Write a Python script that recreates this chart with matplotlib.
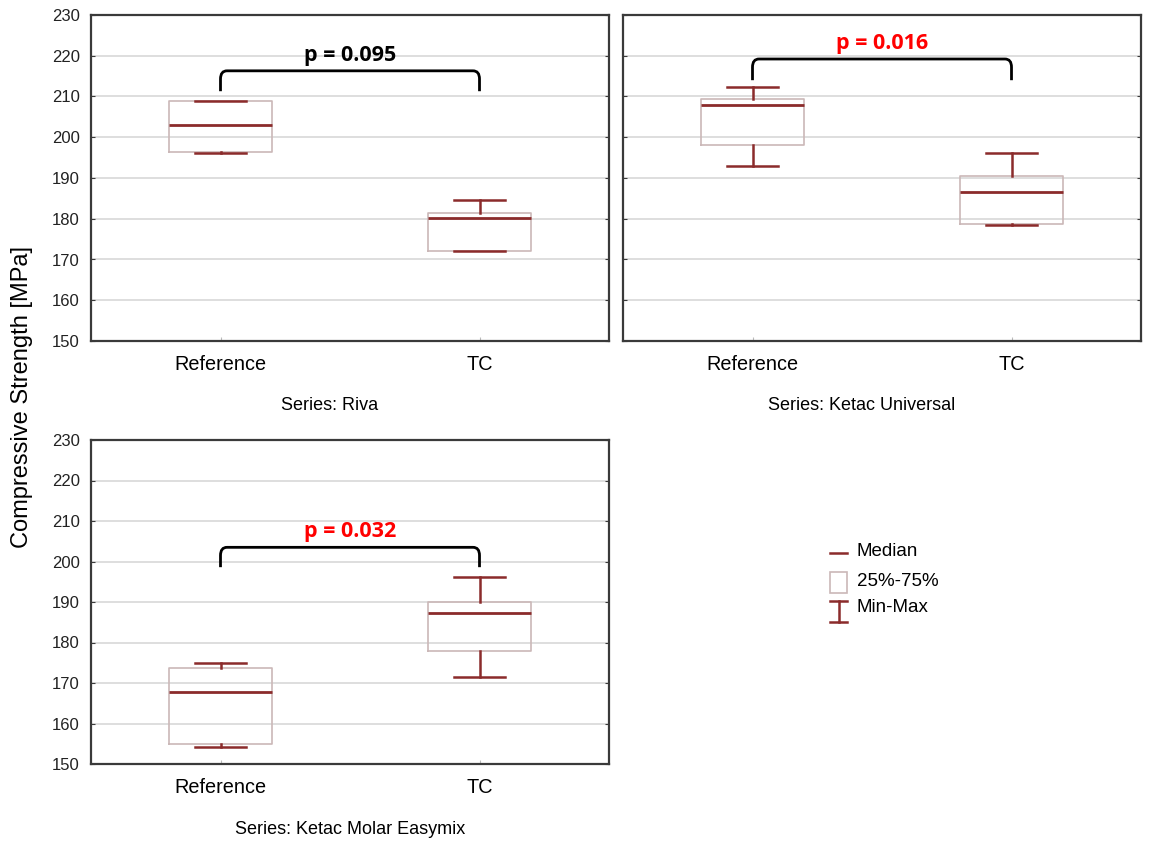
import matplotlib
matplotlib.use("Agg")
import matplotlib.pyplot as plt
from matplotlib.path import Path
from matplotlib.patches import PathPatch, Rectangle
from matplotlib.lines import Line2D

plt.rcParams["font.family"] = ["Liberation Sans", "DejaVu Sans"]

groups = ["Reference", "TC"]
series = ["Riva", "Ketac Universal", "Ketac Molar Easymix"]

# min, q1, median, q3, max for Reference and TC
riva_min = [196.1, 172.1]
riva_q1 = [196.3, 172.2]
riva_med = [203.0, 180.2]
riva_q3 = [208.9, 181.4]
riva_max = [209.0, 184.6]

ketu_min = [192.9, 178.4]
ketu_q1 = [198.1, 178.6]
ketu_med = [207.9, 186.6]
ketu_q3 = [209.3, 190.4]
ketu_max = [212.3, 196.1]

ketm_min = [154.2, 171.4]
ketm_q1 = [155.0, 178.0]
ketm_med = [167.8, 187.2]
ketm_q3 = [173.7, 190.1]
ketm_max = [175.0, 196.2]

p_values = ["p = 0.095", "p = 0.016", "p = 0.032"]
p_colors = ["black", "red", "red"]
bracket_top = [216.3, 219.2, 203.5]
bracket_end = [211.3, 214.0, 198.6]

data = [
    (riva_min, riva_q1, riva_med, riva_q3, riva_max),
    (ketu_min, ketu_q1, ketu_med, ketu_q3, ketu_max),
    (ketm_min, ketm_q1, ketm_med, ketm_q3, ketm_max),
]

dark_red = "#8b2b2b"
box_edge = "#cbb8b8"
grid_col = "#d8d8d8"
spine_col = "#3a3a3a"

fig = plt.figure(figsize=(11.52, 8.43), dpi=100)
W, H = 1152, 843


def px_axes(x0, y0, x1, y1):
    return fig.add_axes([x0 / W, 1 - y1 / H, (x1 - x0) / W, (y1 - y0) / H])


axes = [px_axes(91, 15, 609, 341), px_axes(623, 15, 1141, 341), px_axes(91, 440, 609, 764)]

for i, ax in enumerate(axes):
    mn, q1, med, q3, mx = data[i]
    stats = []
    for j in range(2):
        stats.append(dict(whislo=mn[j], q1=q1[j], med=med[j], q3=q3[j], whishi=mx[j], label=groups[j]))
    ax.bxp(stats, positions=[0, 1], widths=0.4, showfliers=False, capwidths=0.2,
           boxprops=dict(color=box_edge, linewidth=1.2),
           medianprops=dict(color=dark_red, linewidth=2),
           whiskerprops=dict(color=dark_red, linewidth=1.8),
           capprops=dict(color=dark_red, linewidth=1.8), zorder=3)
    ax.set_xlim(-0.5, 1.5)
    ax.set_ylim(150, 230)
    ax.set_yticks(range(150, 231, 10))
    ax.set_xticks([0, 1])
    ax.set_xticklabels(groups, fontsize=14.3)
    ax.yaxis.grid(True, color=grid_col, linewidth=1.2, zorder=0)
    ax.set_axisbelow(True)
    ax.tick_params(axis="y", direction="in", length=3, labelsize=12, left=True, right=True,
                   color=spine_col, pad=8, labelcolor="#222222")
    ax.tick_params(axis="x", direction="in", length=3, pad=10, color="#bbbbbb")
    if i == 1:
        ax.tick_params(axis="y", labelleft=False)
    for s in ax.spines.values():
        s.set_color(spine_col)
        s.set_linewidth(1.6)

    # bracket with rounded corners
    yt, ye = bracket_top[i], bracket_end[i]
    rx, ry = 0.025, 2.0
    verts = [(0, ye), (0, yt - ry), (0, yt), (rx, yt), (1 - rx, yt), (1, yt), (1, yt - ry), (1, ye)]
    codes = [Path.MOVETO, Path.LINETO, Path.CURVE3, Path.CURVE3, Path.LINETO,
             Path.CURVE3, Path.CURVE3, Path.LINETO]
    ax.add_patch(PathPatch(Path(verts, codes), fill=False, edgecolor="black", linewidth=2, zorder=4))
    ax.text(0.5, yt + 1.2, p_values[i], ha="center", va="bottom", fontsize=15.5,
            fontweight="bold", color=p_colors[i], family=["Open Sans", "DejaVu Sans"])

fig.text(330 / W, 1 - 406 / H, "Series: " + series[0], ha="center", va="center", fontsize=13)
fig.text(862 / W, 1 - 406 / H, "Series: " + series[1], ha="center", va="center", fontsize=13)
fig.text(350 / W, 1 - 829 / H, "Series: " + series[2], ha="center", va="center", fontsize=13)

fig.text(22 / W, 1 - 397 / H, "Compressive Strength [MPa]", rotation=90, ha="center",
         va="center", fontsize=17)

# legend
lg = fig.add_axes([0, 0, 1, 1], facecolor="none")
lg.set_xlim(0, W)
lg.set_ylim(H, 0)
lg.axis("off")
lg.add_line(Line2D([830, 847], [553, 553], color=dark_red, linewidth=1.8))
lg.add_patch(Rectangle((830, 572), 17, 21, fill=False, edgecolor=box_edge, linewidth=1.2))
lg.add_line(Line2D([830, 847], [601, 601], color=dark_red, linewidth=1.8))
lg.add_line(Line2D([838.5, 838.5], [601, 622], color=dark_red, linewidth=1.8))
lg.add_line(Line2D([830, 847], [622, 622], color=dark_red, linewidth=1.8))
lg.text(857, 552, "Median", va="center", fontsize=13.5)
lg.text(857, 581, "25%-75%", va="center", fontsize=13.5)
lg.text(857, 608, "Min-Max", va="center", fontsize=13.5)

fig.savefig("out.png", dpi=100)
